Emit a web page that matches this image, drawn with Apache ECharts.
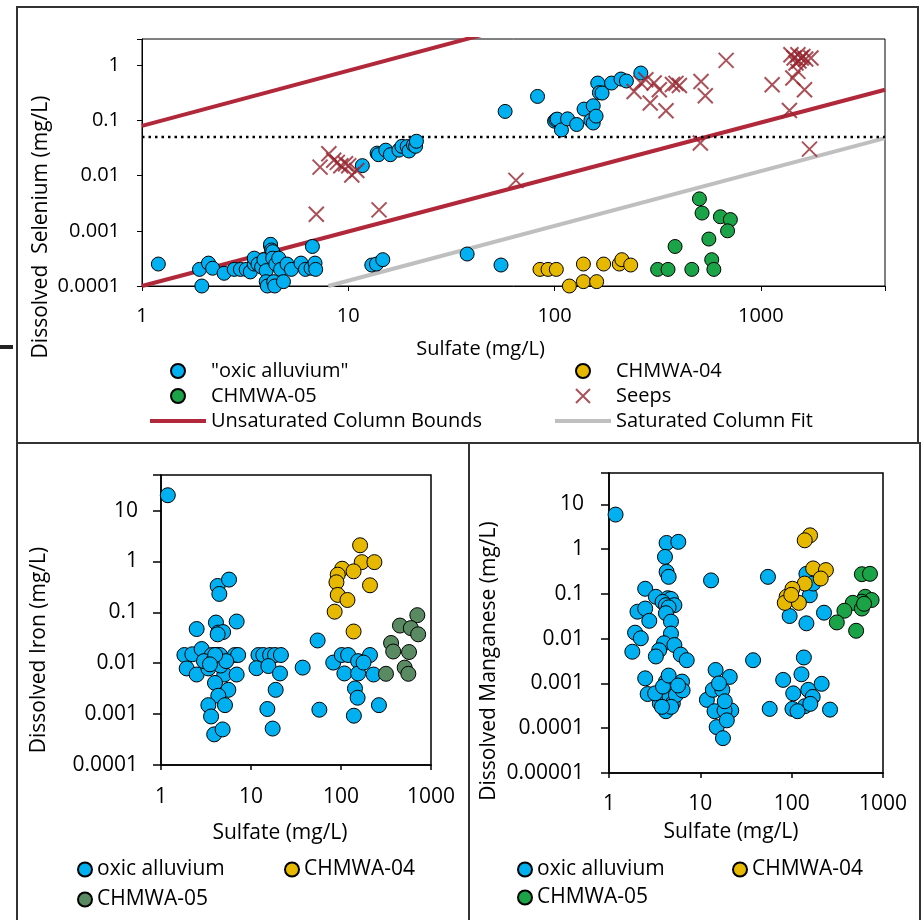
<!DOCTYPE html>
<html>
<head>
<meta charset="utf-8">
<title>Sulfate vs dissolved Se, Fe, Mn</title>
<script src="https://cdn.jsdelivr.net/npm/echarts@6/dist/echarts.min.js"></script>
<style>
  html, body { margin: 0; padding: 0; background: #fff; }
  #chart { width: 924px; height: 920px; }
</style>
</head>
<body>
<div id="chart"></div>
<script>
// ---- top panel: dissolved selenium vs sulfate (mg/L) ----
const seOxicX = [1.2, 1.95, 1.9, 2.1, 2.2, 2.5, 2.8, 3.0, 3.2, 3.35, 3.5, 3.5, 3.65, 3.8, 3.9, 4.0, 4.0, 4.05, 4.2, 4.2, 4.25, 4.3, 4.3, 4.35, 4.4, 4.45, 4.6, 4.7, 4.85, 5.05, 5.3, 5.9, 6.2, 6.6, 6.7, 6.9, 6.95, 13.0, 13.7, 14.7, 37.7, 55,
  11.7, 13.8, 14.0, 15.2, 16.0, 17.6, 18.2, 19.3, 19.7, 20.7, 21.2, 21.4,
  57.6, 82.7, 100, 101.5, 103, 108, 115.6, 128, 139, 150, 154, 154, 159, 162, 165, 170, 189, 210, 223, 262];
const seOxicY = [0.00025, 0.0001, 0.0002, 0.00026, 0.00021, 0.00017, 0.0002, 0.0002, 0.0002, 0.00018, 0.00025, 0.00032, 0.00025, 0.00022, 0.0003, 0.00019, 0.00012, 0.0001, 0.00053, 0.00057, 0.00045, 0.00042, 0.00032, 0.00012, 0.0001, 0.00025, 0.00032, 0.0002, 0.00012, 0.00025, 0.0002, 0.00026, 0.0002, 0.00021, 0.00052, 0.00026, 0.0002, 0.00024, 0.00025, 0.0003, 0.00038, 0.00024,
  0.0152, 0.0256, 0.024, 0.029, 0.024, 0.029, 0.034, 0.0337, 0.028, 0.036, 0.034, 0.042,
  0.146, 0.273, 0.097, 0.103, 0.106, 0.0675, 0.107, 0.0846, 0.161, 0.1, 0.185, 0.09, 0.12, 0.477, 0.32, 0.314, 0.477, 0.564, 0.52, 0.724];
const seW04X = [85, 93, 102, 118, 138, 160, 138, 173, 206, 212, 234];
const seW04Y = [0.0002, 0.0002, 0.0002, 0.0001, 0.00012, 0.00012, 0.00025, 0.00025, 0.00025, 0.0003, 0.00024];
const seW05X = [316, 355, 384, 463, 504, 519, 637, 712, 690, 560, 578, 592];
const seW05Y = [0.0002, 0.0002, 0.00052, 0.0002, 0.0038, 0.0021, 0.0018, 0.0016, 0.001, 0.00071, 0.0003, 0.0002];
const seepX = [7.0, 7.3, 8.05, 8.5, 8.85, 9.2, 9.7, 10.05, 10.4, 11.0, 14.1, 65,
  243, 262, 277, 291, 304, 322, 347, 373, 388, 403, 513, 538, 679, 509,
  1135, 1376, 1430, 1513, 1629, 1722, 1400, 1450, 1513, 1570, 1480, 1650, 1750, 1530, 1600];
const seepY = [0.002, 0.0143, 0.025, 0.019, 0.0174, 0.0151, 0.0164, 0.0151, 0.0103, 0.0124, 0.0024, 0.0082,
  0.336, 0.48, 0.548, 0.207, 0.477, 0.36, 0.15, 0.45, 0.47, 0.43, 0.51, 0.28, 1.23, 0.039,
  0.445, 0.152, 0.589, 0.776, 0.36, 0.0303, 1.56, 1.36, 1.56, 1.36, 1.1, 1.3, 1.36, 1.2, 1.45];
// bounding lines (end points)
const unsatHighX = [1, 100];
const unsatHighY = [0.08, 8];
const unsatLowX = [1, 4000];
const unsatLowY = [0.0001, 0.36];
const satFitX = [8, 4000];
const satFitY = [0.0001, 0.048];
const seLimitX = [1, 4000];
const seLimitY = [0.05, 0.05];

// ---- bottom left: dissolved iron ----
const feOxicX = [1.19, 4.26, 4.45, 5.7, 4.08, 6.93, 2.49, 4.33, 4.9, 4.26, 1.82, 2.23, 2.83, 3.66, 4.16, 4.52, 6.6, 7.2, 1.93, 2.49, 3.36, 5.05, 6.93, 3.98, 5.6, 4.33, 3.36, 5.14, 3.6, 3.9, 4.84, 3.0, 3.9, 4.6, 5.3, 4.0, 3.5,
  12.1, 13.7, 16.3, 18.5, 21.5, 11.5, 15.6, 21, 18.8, 15.2, 17.4,
  37.5, 55, 57.5, 82, 102, 120, 155, 210, 109, 155, 230, 178, 143, 153, 139, 264];
const feOxicY = [20, 0.33, 0.23, 0.44, 0.063, 0.066, 0.047, 0.04, 0.041, 0.037, 0.0145, 0.015, 0.019, 0.0145, 0.0145, 0.0145, 0.0145, 0.0145, 0.0079, 0.006, 0.0079, 0.006, 0.006, 0.0041, 0.003, 0.0023, 0.0015, 0.0015, 0.0009, 0.0004, 0.0005, 0.011, 0.012, 0.009, 0.011, 0.0145, 0.0095,
  0.0145, 0.0145, 0.0145, 0.0145, 0.0145, 0.008, 0.0088, 0.0063, 0.003, 0.00126, 0.00052,
  0.0082, 0.028, 0.00122, 0.0103, 0.0145, 0.0145, 0.011, 0.0145, 0.0063, 0.0063, 0.006, 0.0103, 0.0032, 0.0021, 0.00093, 0.0015];
const feW04X = [163, 170, 235, 103, 138, 92, 89, 210, 92, 118, 85, 138];
const feW04Y = [2.08, 0.97, 0.97, 0.72, 0.64, 0.55, 0.39, 0.34, 0.22, 0.175, 0.103, 0.042];
const feW05X = [705, 452, 597, 720, 360, 380, 570, 510, 560, 316];
const feW05Y = [0.088, 0.055, 0.049, 0.037, 0.025, 0.017, 0.0166, 0.0082, 0.0062, 0.0062];

// ---- bottom right: dissolved manganese ----
const mnOxicX = [1.18, 4.27, 5.74, 4.1, 4.27, 4.5, 13.1, 55, 2.49, 3.26, 4.4, 4.77, 3.86, 4.2, 5.2, 4.5, 4.2, 4.77, 2.05, 2.49, 2.76, 1.93, 2.23, 1.8, 4.77, 4.0, 3.54, 5.2, 6.1, 7.1, 3.26, 2.49, 2.65, 3.6, 4.2, 4.0, 4.6, 5.0, 4.2, 5.4, 6.3, 6.4, 3.2, 3.9, 4.5, 5.7, 4.8, 3.8,
  14.7, 21, 11.8, 13.7, 17.4, 14.3, 21.8, 18.4, 15.1, 17.7, 18.5, 19.5, 16,
  37.8, 57.5, 80.7, 136, 128, 104, 102, 139, 152, 170, 213, 263, 116, 160,
  95, 145, 226, 158, 145, 172];
const mnOxicY = [5.9, 1.37, 1.45, 0.67, 0.31, 0.24, 0.2, 0.24, 0.13, 0.086, 0.08, 0.077, 0.066, 0.056, 0.056, 0.05, 0.037, 0.024, 0.04, 0.047, 0.025, 0.0136, 0.0102, 0.0051, 0.013, 0.0079, 0.0055, 0.0072, 0.0044, 0.0033, 0.004, 0.0013, 0.00058, 0.00036, 0.0011, 0.0005, 0.0005, 0.00036, 0.00024, 0.00055, 0.0011, 0.0007, 0.0006, 0.00085, 0.0015, 0.0009, 0.0003, 0.0003,
  0.002, 0.0014, 0.00043, 0.00072, 0.00072, 0.00024, 0.00025, 0.00025, 0.000106, 0.00006, 0.0004, 0.00015, 0.001,
  0.0033, 0.00027, 0.0012, 0.0038, 0.0016, 0.0006, 0.00027, 0.00031, 0.00072, 0.0005, 0.00098, 0.00026, 0.00024, 0.00035,
  0.032, 0.022, 0.038, 0.093, 0.28, 0.17];
const mnW04X = [159, 139, 172, 237, 208, 139, 102, 88, 84, 120, 99];
const mnW04Y = [2.03, 1.57, 0.37, 0.34, 0.22, 0.17, 0.13, 0.086, 0.063, 0.063, 0.095];
const mnW05X = [587, 720, 638, 750, 587, 467, 378, 587, 312, 508, 620];
const mnW05Y = [0.275, 0.28, 0.086, 0.073, 0.067, 0.063, 0.042, 0.047, 0.023, 0.015, 0.06];

const FONT = 'Open Sans';
const FS_TOP = 20, FS = 21;
const BLUE = '#00B0F0', GOLD = '#E6B800', GREEN = '#1BA347', DULLGREEN = '#5A8A62';
const RED = '#B0283A', SEEP = '#962530', GREY = '#BFBFBF';
const BAR = 'path://M0 0H56V4H0Z';

const pairs = (xs, ys) => xs.map((x, i) => [x, ys[i]]);

// only label whole decades, written out in full
function decadeLabel(v) {
  const e = Math.log10(v);
  const r = Math.round(e);
  if (Math.abs(e - r) > 1e-6) return '';
  return r < 0 ? Math.pow(10, r).toFixed(-r) : String(Math.pow(10, r));
}

function logAxis(grid, min, max, margin, lw, tick, fs, extra) {
  return Object.assign({
    type: 'log', logBase: 10, gridIndex: grid, min: min, max: max,
    axisLine: { lineStyle: { color: '#000', width: lw } },
    axisTick: { inside: false, length: tick, lineStyle: { color: '#000', width: lw } },
    axisLabel: { formatter: decadeLabel, margin: margin, fontSize: fs, fontFamily: FONT, color: '#000' },
    splitLine: { show: false },
    minorTick: { show: false }
  }, extra || {});
}

function dots(name, xs, ys, color, gi, size) {
  return {
    type: 'scatter', name: name, xAxisIndex: gi, yAxisIndex: gi,
    data: pairs(xs, ys), symbol: 'circle', symbolSize: size,
    itemStyle: { color: color, borderColor: '#000', borderWidth: 1, opacity: 1 },
    z: 3
  };
}

const xName = (gap, shift, fs) => ({
  name: 'Sulfate (mg/L)', nameLocation: 'middle', nameGap: gap,
  nameTextStyle: { fontSize: fs, fontFamily: FONT, color: '#000', padding: [0, shift * 2, 0, 0] }
});

const topLegendText = { fontSize: FS_TOP, lineHeight: 20, fontFamily: FONT, color: '#000' };
const legendText = { fontSize: FS, lineHeight: 21, fontFamily: FONT, color: '#000' };

const chart = echarts.init(document.getElementById('chart'));

chart.setOption({
  animation: false,
  backgroundColor: '#fff',
  grid: [
    { left: 142, top: 39, width: 743, height: 247, show: true, borderColor: '#000', borderWidth: 1 },
    { left: 161, top: 475, width: 270, height: 290, show: true, borderColor: '#000', borderWidth: 1.5 },
    { left: 609, top: 473, width: 274, height: 300, show: true, borderColor: '#000', borderWidth: 1.5 }
  ],
  xAxis: [
    logAxis(0, 1, 4000, 20, 1, 5, FS_TOP, xName(53, 33, FS_TOP)),
    logAxis(1, 1, 1000, 22, 1.5, 5, FS, xName(58, 16, FS)),
    logAxis(2, 1, 1000, 21, 1.5, 5, FS, xName(49, 15, FS))
  ],
  yAxis: [
    logAxis(0, 0.0001, 3, 22, 1, 5, FS_TOP),
    logAxis(1, 0.0001, 50, 23, 1.5, 8, FS),
    logAxis(2, 0.00001, 50, 25, 1.5, 8, FS)
  ],
  legend: [
    { left: 150, top: 361, padding: 0, orient: 'vertical', itemWidth: 56, itemHeight: 14, itemGap: 5, selectedMode: false,
      textStyle: topLegendText,
      data: ['"oxic alluvium"', 'CHMWA-05', { name: 'Unsaturated Column Bounds', icon: BAR }] },
    { left: 555, top: 361, padding: 0, orient: 'vertical', itemWidth: 56, itemHeight: 14, itemGap: 5, selectedMode: false,
      textStyle: topLegendText,
      data: ['CHMWA-04', 'Seeps', { name: 'Saturated Column Fit', icon: BAR }] },
    { left: 77, top: 859, padding: 0, orient: 'vertical', itemWidth: 14, itemHeight: 14, itemGap: 9, selectedMode: false,
      textStyle: legendText,
      data: ['oxic alluvium', { name: 'CHMWA-05', itemStyle: { color: DULLGREEN } }] },
    { left: 284, top: 859, padding: 0, orient: 'vertical', itemWidth: 14, itemHeight: 14, selectedMode: false,
      textStyle: legendText,
      data: ['CHMWA-04'] },
    { left: 517, top: 859, padding: 0, orient: 'vertical', itemWidth: 14, itemHeight: 14, itemGap: 7, selectedMode: false,
      textStyle: legendText,
      data: ['oxic alluvium', 'CHMWA-05'] },
    { left: 732, top: 859, padding: 0, orient: 'vertical', itemWidth: 14, itemHeight: 14, selectedMode: false,
      textStyle: legendText,
      data: ['CHMWA-04'] }
  ],
  graphic: [
    { type: 'rect', shape: { x: 17, y: 7, width: 901, height: 436 }, style: { fill: 'none', stroke: '#333', lineWidth: 2 } },
    { type: 'rect', shape: { x: 17, y: 443, width: 452, height: 490 }, style: { fill: 'none', stroke: '#333', lineWidth: 2 } },
    { type: 'rect', shape: { x: 469, y: 443, width: 451, height: 490 }, style: { fill: 'none', stroke: '#333', lineWidth: 2 } },
    { type: 'rect', shape: { x: 0, y: 345, width: 13, height: 4 }, style: { fill: '#222' } },
    { type: 'text', x: 41, y: 227, rotation: Math.PI / 2,
      style: { text: 'Dissolved  Selenium (mg/L)', fontSize: 21, fontFamily: FONT, fill: '#000', align: 'center', verticalAlign: 'middle' } },
    { type: 'text', x: 39, y: 650, rotation: Math.PI / 2,
      style: { text: 'Dissolved Iron (mg/L)', fontSize: 21, fontFamily: FONT, fill: '#000', align: 'center', verticalAlign: 'middle' } },
    { type: 'text', x: 489, y: 661, rotation: Math.PI / 2,
      style: { text: 'Dissolved Manganese (mg/L)', fontSize: 21, fontFamily: FONT, fill: '#000', align: 'center', verticalAlign: 'middle' } }
  ],
  series: [
    // top panel
    { type: 'line', name: 'Unsaturated Column Bounds', xAxisIndex: 0, yAxisIndex: 0, data: pairs(unsatHighX, unsatHighY),
      symbol: 'none', lineStyle: { color: RED, width: 4 }, itemStyle: { color: RED }, z: 1, silent: true },
    { type: 'line', name: 'Unsaturated Column Bounds', xAxisIndex: 0, yAxisIndex: 0, data: pairs(unsatLowX, unsatLowY),
      symbol: 'none', lineStyle: { color: RED, width: 4 }, itemStyle: { color: RED }, z: 1, silent: true },
    { type: 'line', name: 'Saturated Column Fit', xAxisIndex: 0, yAxisIndex: 0, data: pairs(satFitX, satFitY),
      symbol: 'none', lineStyle: { color: GREY, width: 4 }, itemStyle: { color: GREY }, z: 1, silent: true },
    { type: 'line', name: 'Se standard', xAxisIndex: 0, yAxisIndex: 0, data: pairs(seLimitX, seLimitY),
      symbol: 'none', lineStyle: { color: '#000', width: 2.5, type: [2.5, 4] }, z: 1, silent: true },
    dots('"oxic alluvium"', seOxicX, seOxicY, BLUE, 0, 14),
    dots('CHMWA-04', seW04X, seW04Y, GOLD, 0, 14),
    dots('CHMWA-05', seW05X, seW05Y, GREEN, 0, 14),
    { type: 'scatter', name: 'Seeps', xAxisIndex: 0, yAxisIndex: 0, data: pairs(seepX, seepY),
      symbol: 'path://M0 0L10 10M10 0L0 10', symbolSize: 15,
      itemStyle: { color: SEEP, borderColor: SEEP, borderWidth: 2 }, z: 4 },
    // iron
    dots('oxic alluvium', feOxicX, feOxicY, BLUE, 1, 15),
    dots('CHMWA-04', feW04X, feW04Y, GOLD, 1, 15),
    dots('CHMWA-05', feW05X, feW05Y, DULLGREEN, 1, 15),
    // manganese
    dots('oxic alluvium', mnOxicX, mnOxicY, BLUE, 2, 15),
    dots('CHMWA-04', mnW04X, mnW04Y, GOLD, 2, 15),
    dots('CHMWA-05', mnW05X, mnW05Y, GREEN, 2, 15)
  ]
});
</script>
</body>
</html>
